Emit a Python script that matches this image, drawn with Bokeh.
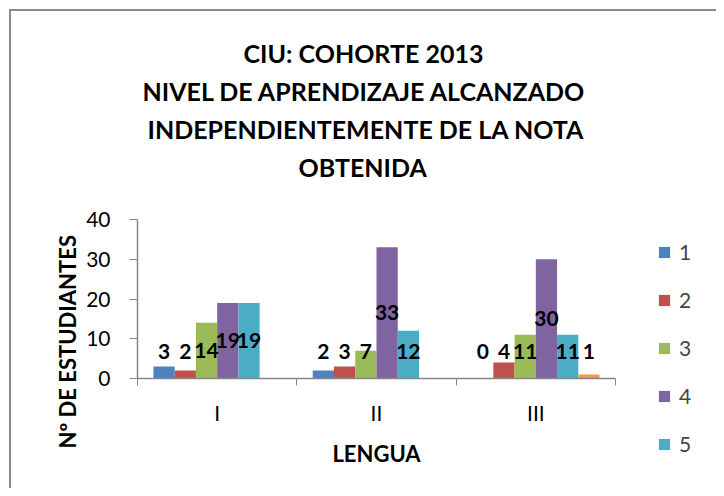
from bokeh.plotting import figure
from bokeh.layouts import row
from bokeh.models import (Range1d, LinearAxis, FixedTicker, Legend, LegendItem, Title)
from bokeh.embed import file_html
from bokeh.resources import INLINE
from bokeh.core.properties import value

# ---------------- data ----------------
categories = ["I", "II", "III"]
series_names = ["1", "2", "3", "4", "5", ""]
s1 = [3, 2, 0]
s2 = [2, 3, 4]
s3 = [14, 7, 11]
s4 = [19, 33, 30]
s5 = [19, 12, 11]
s6 = [None, None, 1]
series = [s1, s2, s3, s4, s5, s6]
colors = ["#4F81BD", "#C0504D", "#9BBB59", "#8064A2", "#4BACC6", "#F79646"]
y_ticks = [0, 10, 20, 30, 40]
title_lines = ["CIU: COHORTE 2013", "NIVEL DE APRENDIZAJE ALCANZADO",
               "INDEPENDIENTEMENTE DE LA NOTA", "OBTENIDA"]
title_offsets = [106, 5, 10, 161]     # left offsets that centre each line near x=362
x_title = "LENGUA"
y_title = "Nº DE ESTUDIANTES"

# ---------------- layout ----------------
OFF = 11
H = 477
FL, FR, FT, FB = 137, 615, 219, 378   # frame edges in page px
SPLIT = 635                            # page x where the legend panel starts
WP = SPLIT - OFF
WQ = 716 - SPLIT
FONT = "Lato"
GRAY = "#868686"

p = figure(width=WP, height=H, output_backend="svg", toolbar_location=None,
           x_range=Range1d(0, 3), y_range=Range1d(0, 40),
           min_border_left=FL - OFF, min_border_right=SPLIT - FR,
           min_border_top=FT - OFF, min_border_bottom=H + OFF - FB,
           x_axis_type=None, y_axis_type=None)
p.frame_align = False
p.outline_line_color = None
p.background_fill_color = "white"
p.border_fill_color = "white"

# y axis
yax = LinearAxis(ticker=FixedTicker(ticks=y_ticks, minor_ticks=[]))
yax.axis_line_color = GRAY
yax.axis_line_width = 1.5
yax.major_tick_line_color = GRAY
yax.major_tick_out = 8
yax.major_tick_in = 0
yax.minor_tick_line_color = None
yax.major_label_text_font = FONT
yax.major_label_text_font_size = "21px"
yax.major_label_text_color = "black"
yax.major_label_standoff = 19
p.add_layout(yax, "left")

# x axis: labels at category centres, tick marks at boundaries
centers = [i + 0.5 for i in range(len(categories))]
bounds = [float(i) for i in range(len(categories) + 1)]
xax = LinearAxis(ticker=FixedTicker(ticks=centers, minor_ticks=bounds))
xax.major_label_overrides = {c: lab for c, lab in zip(centers, categories)}
xax.axis_line_color = GRAY
xax.axis_line_width = 1.5
xax.major_tick_line_color = None
xax.major_tick_out = 0
xax.major_tick_in = 0
xax.minor_tick_line_color = GRAY
xax.minor_tick_out = 7
xax.minor_tick_in = 0
xax.major_label_text_font = FONT
xax.major_label_text_font_size = "21px"
xax.major_label_text_color = "black"
xax.major_label_standoff = 14
xax.axis_label = x_title
xax.axis_label_text_font = FONT
xax.axis_label_text_font_style = "bold"
xax.axis_label_text_font_size = "22px"
xax.axis_label_text_color = "black"
xax.axis_label_standoff = 12
p.add_layout(xax, "below")

p.xgrid.visible = False
p.ygrid.grid_line_color = GRAY
p.ygrid.grid_line_width = 1
p.ygrid.ticker = FixedTicker(ticks=y_ticks)

# bars
n = len(series)
bw = 1.0 / (n + 1.5)
lx, ly, lt = [], [], []
bar_data = []
for j, (vals, col) in enumerate(zip(series, colors)):
    xs, tops = [], []
    for i, v in enumerate(vals):
        if v is None:
            continue
        x = i + 0.5 + (j - (n - 1) / 2) * bw
        xs.append(x)
        tops.append(v)
        lx.append(x)
        ly.append(max(v / 2.0, 6.8))
        lt.append(str(v))
    bar_data.append((xs, tops))
    p.vbar(x=xs, top=tops, bottom=0, width=bw, fill_color=col, line_color=None)

p.text(x=lx, y=ly, text=lt, text_font=value(FONT), text_font_style="bold",
       text_font_size="21px", text_align="center", text_baseline="middle",
       text_color="black")

# y-axis title (left panel, starting below the frame like the reference)
p.add_layout(Title(text=y_title, text_font=FONT, text_font_style="bold",
                   text_font_size="22px", text_color="black", align="left",
                   offset=-70, standoff=6), "left")

# chart titles, stacked above (first added = closest to the frame)
p.add_layout(Title(text=" ", text_font_size="30px", standoff=0), "above")
for txt, off in reversed(list(zip(title_lines, title_offsets))):
    p.add_layout(Title(text=txt, text_font=FONT, text_font_style="bold",
                       text_font_size="25px", text_color="black", align="left",
                       offset=off, standoff=6), "above")

# legend panel (separate small canvas to the right); its series renderers lie
# outside the visible ranges and only provide the legend swatches
q = figure(width=WQ, height=H, output_backend="svg", toolbar_location=None,
           x_range=Range1d(100, 101), y_range=Range1d(1000, 1001),
           min_border=0, min_border_left=0, min_border_right=0,
           min_border_top=0, min_border_bottom=0,
           x_axis_type=None, y_axis_type=None)
q.frame_align = False
q.outline_line_color = None
q.background_fill_color = "white"
q.border_fill_color = "white"
q.xgrid.visible = False
q.ygrid.visible = False
items = []
for name, col, (xs, tops) in zip(series_names, colors, bar_data):
    if not name:
        continue
    r = q.vbar(x=xs, top=tops, bottom=0, width=bw, fill_color=col, line_color=None)
    items.append(LegendItem(label=name, renderers=[r]))
leg = Legend(items=items, location=(657 - SPLIT, OFF + H - 456), orientation="vertical")
leg.glyph_width = 14
leg.glyph_height = 14
leg.label_standoff = 8
leg.label_text_font = FONT
leg.label_text_font_size = "21px"
leg.label_height = 25
leg.spacing = 23
leg.padding = 0
leg.margin = 0
leg.border_line_color = None
leg.background_fill_alpha = 0
q.add_layout(leg, "center")

layout = row(p, q, spacing=0)
layout.styles = {"margin-left": "9px", "margin-top": "9px",
                 "border-left": "2px solid #8a8a8a", "border-top": "2px solid #8a8a8a"}

open("out.html", "w").write(file_html(layout, INLINE))
